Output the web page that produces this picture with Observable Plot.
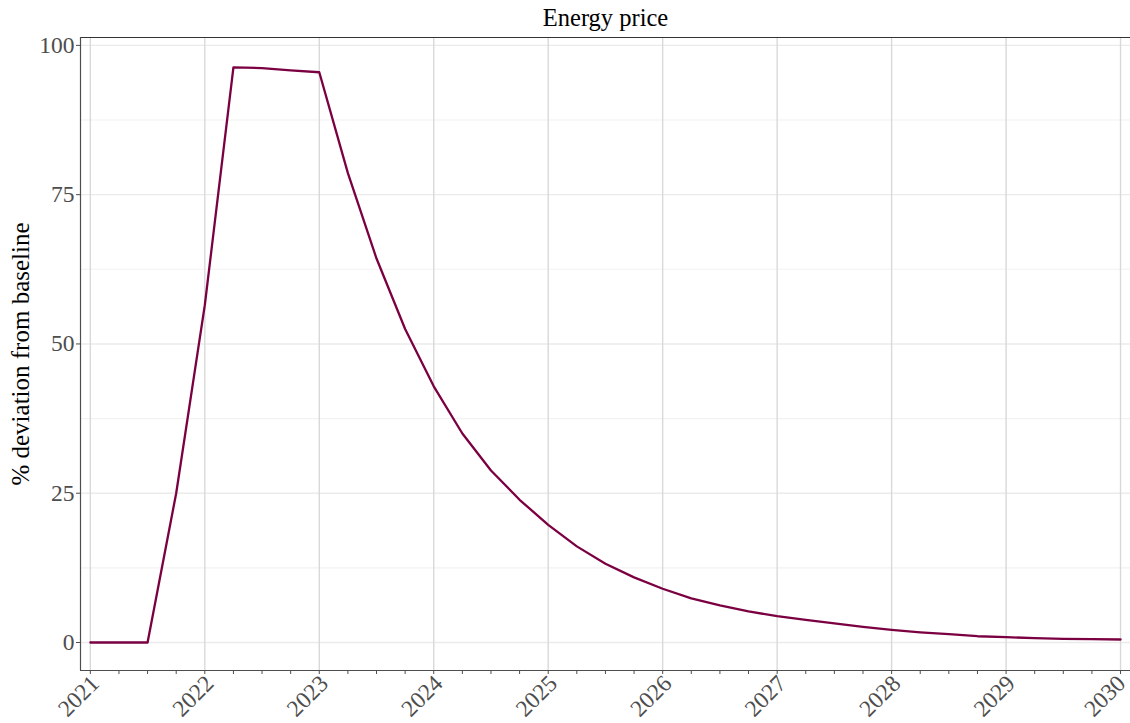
<!DOCTYPE html>
<html>
<head>
<meta charset="utf-8">
<script src="https://cdn.jsdelivr.net/npm/d3@7"></script>
<script src="https://cdn.jsdelivr.net/npm/@observablehq/plot@0.6"></script>
<style>
  html, body { margin: 0; padding: 0; background: #ffffff; overflow: hidden; }
  #chart svg { display: block; }
  #chart svg text { font-family: 'Liberation Serif', 'Times New Roman', serif; }
</style>
</head>
<body>
<div id="chart"></div>
<script>
// Quarterly observations, expressed as decimal years
const quarters = [
  2021.00, 2021.25, 2021.50, 2021.75,
  2022.00, 2022.25, 2022.50, 2022.75,
  2023.00, 2023.25, 2023.50, 2023.75,
  2024.00, 2024.25, 2024.50, 2024.75,
  2025.00, 2025.25, 2025.50, 2025.75,
  2026.00, 2026.25, 2026.50, 2026.75,
  2027.00, 2027.25, 2027.50, 2027.75,
  2028.00, 2028.25, 2028.50, 2028.75,
  2029.00, 2029.25, 2029.50, 2029.75,
  2030.00
];

// Energy price, % deviation from baseline
const deviation = [
  0, 0, 0, 25.0,
  56.5, 96.3, 96.2, 95.8,
  95.5, 78.6, 64.3, 52.5,
  42.9, 35.0, 28.8, 23.9,
  19.7, 16.1, 13.2, 10.9,
  9.0, 7.4, 6.2, 5.2,
  4.4, 3.8, 3.2, 2.6,
  2.1, 1.7, 1.4, 1.05,
  0.9, 0.72, 0.6, 0.55,
  0.5
];

const yearTicks = [2021, 2022, 2023, 2024, 2025, 2026, 2027, 2028, 2029, 2030];
const yMajorTicks = [0, 25, 50, 75, 100];
const yMinorTicks = [12.5, 37.5, 62.5, 87.5];

const titleText = "Energy price";
const yLabel = "% deviation from baseline";

const xDomain = [2020.914, 2030.087];
const yDomain = [-4.69, 101.32];

const data = quarters.map((t, i) => ({t, v: deviation[i]}));

// shared style for the rotated year labels
const yearLabelStyle = {
  anchor: "bottom", tickSize: 0, tickPadding: 8, stroke: "none",
  tickRotate: -45, fontSize: 23.5, fill: "#4d4d4d", label: null, dy: 1,
  tickFormat: d => String(d)
};

const chart = Plot.plot({
  width: 1130,
  height: 723,
  marginTop: 37,
  marginRight: 0,
  marginBottom: 53,
  marginLeft: 80,
  style: {background: "#ffffff"},
  x: {type: "linear", domain: xDomain},
  y: {type: "linear", domain: yDomain},
  marks: [
    // background grid
    Plot.gridY(yMinorTicks, {stroke: "#f2f2f2", strokeOpacity: 1, strokeWidth: 1.1}),
    Plot.gridY(yMajorTicks, {stroke: "#ebebeb", strokeOpacity: 1, strokeWidth: 1.4}),
    Plot.gridX(yearTicks, {stroke: "#d9d9d9", strokeOpacity: 1, strokeWidth: 1.4}),
    // panel border: top, left, bottom
    Plot.ruleY([yDomain[1]], {stroke: "#333333", strokeWidth: 1.2}),
    Plot.ruleY([yDomain[0]], {stroke: "#4d4d4d", strokeWidth: 1.2}),
    Plot.ruleX([xDomain[0]], {stroke: "#4d4d4d", strokeWidth: 1.2}),
    // axes
    Plot.axisY(yMajorTicks, {
      anchor: "left", tickSize: 4, tickPadding: 2, stroke: "#4d4d4d",
      fontSize: 23.5, fill: "#4d4d4d", label: null, tickFormat: d => String(d)
    }),
    // quarterly tick marks (years included)
    Plot.axisX(quarters, {
      anchor: "bottom", tickSize: 4, stroke: "#4d4d4d", text: null, label: null
    }),
    // rotated year labels; the last one is nudged to stay inside the edge
    Plot.axisX(yearTicks.slice(0, -1), {...yearLabelStyle, dx: 5}),
    Plot.axisX(yearTicks.slice(-1), {...yearLabelStyle, dx: 1}),
    // series
    Plot.line(data, {x: "t", y: "v", stroke: "#7b0041", strokeWidth: 2.3}),
    // title and y-axis label
    Plot.text([titleText], {
      frameAnchor: "top", dy: -19, lineAnchor: "middle", textAnchor: "middle",
      fontSize: 24.5, fill: "#000000"
    }),
    Plot.text([yLabel], {
      frameAnchor: "left", dx: -60, rotate: -90, lineAnchor: "middle", textAnchor: "middle",
      fontSize: 25, fill: "#000000"
    })
  ]
});

document.getElementById("chart").appendChild(chart);
</script>
</body>
</html>
